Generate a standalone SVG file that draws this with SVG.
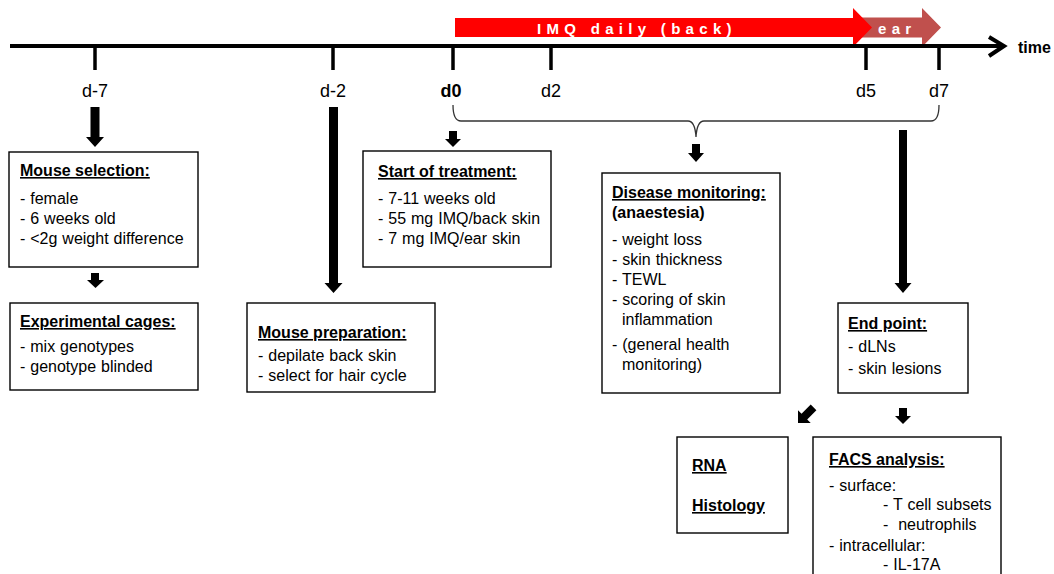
<svg xmlns="http://www.w3.org/2000/svg" width="1054" height="574" viewBox="0 0 1054 574">
<style>
text{font-family:"Liberation Sans",Arial,sans-serif;fill:#000}
.t{font-size:16px;word-spacing:0.5px}
.h{font-size:16px;font-weight:bold;text-decoration:underline}
.b{font-size:16px;font-weight:bold}
.day{font-size:18px;text-anchor:middle}
.box{fill:#fff;stroke:#000;stroke-width:1.4}
.blk{fill:#000}
.tick{stroke:#000;stroke-width:3.5}
.band{font-size:15px;font-weight:bold;fill:#fff;letter-spacing:5.3px}
</style>
<rect width="1054" height="574" fill="#fff"/>
<g id="treatment-bar">
<polygon points="860,17.5 922,17.5 922,8 941,27.5 922,47 922,37.5 860,37.5" fill="#C0504D"/>
<polygon points="455,18 853,18 853,8 872,27.5 853,47 853,37 455,37" fill="#FF0000"/>
<text class="band" x="537" y="34">IMQ daily (back)</text>
<text class="band" x="878" y="34">ear</text>
</g>
<g id="timeline">
<line x1="10" y1="46" x2="1003" y2="46" stroke="#000" stroke-width="4"/>
<polyline points="989,37 1004,46 989,56" fill="none" stroke="#000" stroke-width="4"/>
<text x="1018" y="53" style="font-size:16px;font-weight:bold">time</text>
<line class="tick" x1="95" y1="46" x2="95" y2="70"/>
<line class="tick" x1="333" y1="46" x2="333" y2="70"/>
<line class="tick" x1="453" y1="46" x2="453" y2="70"/>
<line class="tick" x1="551" y1="46" x2="551" y2="70"/>
<line class="tick" x1="866" y1="46" x2="866" y2="70"/>
<line class="tick" x1="939" y1="46" x2="939" y2="70"/>
<text class="day" x="95" y="97">d-7</text>
<text class="day" x="333" y="97">d-2</text>
<text class="day" x="451" y="97" style="font-weight:bold">d0</text>
<text class="day" x="551" y="97">d2</text>
<text class="day" x="866" y="97">d5</text>
<text class="day" x="939" y="97">d7</text>
</g>
<g id="connectors">
<path d="M453,105 Q453,121 461,121 L688,121 Q695,121 696,137 Q697,121 704,121 L931,121 Q939,121 939,105" fill="none" stroke="#333" stroke-width="1.3"/>
<polygon class="blk" points="90.5,107 99.5,107 99.5,137 104,137 95,147 86,137 90.5,137"/>
<polygon class="blk" points="91,273 99,273 99,280 104,280 95.5,288 87,280 91,280"/>
<polygon class="blk" points="329,107 338,107 338,283 342.5,283 333.5,293 324.5,283 329,283"/>
<polygon class="blk" points="449,131 457,131 457,139 461,139 453,147 445,139 449,139"/>
<polygon class="blk" points="692,144 700,144 700,153 704,153 696,162 688,153 692,153"/>
<polygon class="blk" points="899,130 907,130 907,283 911.5,283 903,293 894.5,283 899,283"/>
<polygon class="blk" points="899,408 907,408 907,416 911,416 903,424 895,416 899,416"/>
<polygon class="blk" points="-4,-22 4,-22 4,-9 9,-9 0,0 -9,-9 -4,-9" transform="translate(798,423) rotate(45)"/>
</g>
<g id="mouse-selection">
<rect class="box" x="9" y="152" width="189" height="115"/>
<text class="h" x="20" y="176">Mouse selection:</text>
<text class="t" x="20" y="204">- female</text>
<text class="t" x="20" y="224">- 6 weeks old</text>
<text class="t" x="20" y="244">- &lt;2g weight difference</text>
</g>
<g id="experimental-cages">
<rect class="box" x="10" y="303" width="188" height="87"/>
<text class="h" x="20" y="327">Experimental cages:</text>
<text class="t" x="20" y="352">- mix genotypes</text>
<text class="t" x="20" y="372">- genotype blinded</text>
</g>
<g id="mouse-preparation">
<rect class="box" x="247" y="303" width="188" height="89"/>
<text class="h" x="258" y="338">Mouse preparation:</text>
<text class="t" x="258" y="361">- depilate back skin</text>
<text class="t" x="258" y="381">- select for hair cycle</text>
</g>
<g id="start-of-treatment">
<rect class="box" x="363" y="151" width="188" height="116"/>
<text class="h" x="378" y="177">Start of treatment:</text>
<text class="t" x="378" y="204">- 7-11 weeks old</text>
<text class="t" x="378" y="224">- 55 mg IMQ/back skin</text>
<text class="t" x="378" y="244">- 7 mg IMQ/ear skin</text>
</g>
<g id="disease-monitoring">
<rect class="box" x="602" y="173" width="178" height="220"/>
<text class="h" x="612" y="198">Disease monitoring:</text>
<text class="b" x="612" y="218">(anaestesia)</text>
<text class="t" x="612" y="245">- weight loss</text>
<text class="t" x="612" y="265">- skin thickness</text>
<text class="t" x="612" y="285">- TEWL</text>
<text class="t" x="612" y="305">- scoring of skin</text>
<text class="t" x="622" y="325">inflammation</text>
<text class="t" x="612" y="350">- (general health</text>
<text class="t" x="622" y="370">monitoring)</text>
</g>
<g id="end-point">
<rect class="box" x="838" y="303" width="130" height="90"/>
<text class="h" x="848" y="329">End point:</text>
<text class="t" x="848" y="352">- dLNs</text>
<text class="t" x="848" y="374">- skin lesions</text>
</g>
<g id="rna-histology">
<rect class="box" x="677" y="437" width="111" height="96"/>
<text class="h" x="692" y="471">RNA</text>
<text class="h" x="692" y="511">Histology</text>
</g>
<g id="facs-analysis">
<rect class="box" x="813" y="437" width="188" height="150"/>
<text class="h" x="829" y="465">FACS analysis:</text>
<text class="t" x="829" y="491">- surface:</text>
<text class="t" x="883" y="510">- T cell subsets</text>
<text class="t" x="883" y="530" xml:space="preserve">-  neutrophils</text>
<text class="t" x="829" y="551">- intracellular:</text>
<text class="t" x="883" y="570">- IL-17A</text>
</g>
</svg>
